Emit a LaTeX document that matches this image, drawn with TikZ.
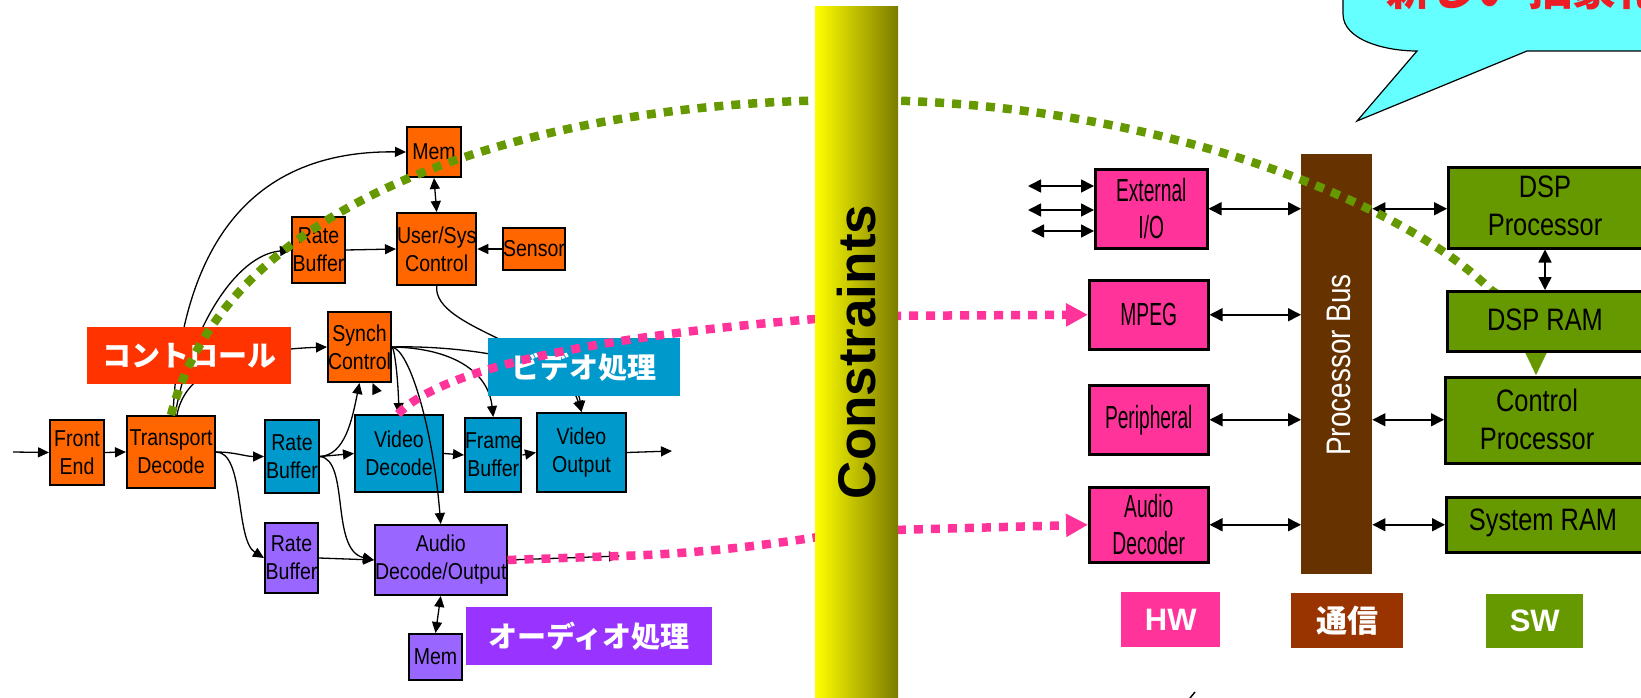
\documentclass[tikz,border=0pt]{standalone}
\usepackage{fontspec}
\setmainfont{Liberation Sans}
\newfontfamily\lfont[FakeStretch=0.85]{Liberation Sans}
\newfontfamily\rfont[FakeStretch=0.82]{Liberation Sans}
\newfontfamily\hfont[FakeStretch=0.6]{Liberation Sans}
\newfontfamily\jpfont{Noto Sans CJK JP}
\usetikzlibrary{arrows.meta}
\definecolor{orng}{HTML}{FF6600}
\definecolor{vblue}{HTML}{0099CC}
\definecolor{apurp}{HTML}{9966FF}
\definecolor{hwpink}{HTML}{FF3399}
\definecolor{swgreen}{HTML}{669900}
\definecolor{busbrown}{HTML}{663300}
\definecolor{combrown}{HTML}{993300}
\definecolor{ctrlred}{HTML}{FF3300}
\definecolor{audlbl}{HTML}{9933FF}
\definecolor{callcyan}{HTML}{66FFFF}
\definecolor{olivedark}{HTML}{7A7A00}
\definecolor{calltext}{HTML}{EE1C24}
\tikzset{
  lbox/.style={draw=black, line width=2pt, inner sep=0pt, anchor=north west, align=center,
    font=\lfont\fontsize{23}{28}\selectfont},
  rbox/.style={draw=black, line width=2.5pt, inner sep=0pt, anchor=north west, align=center,
    font=\rfont\fontsize{31}{38}\selectfont},
  hbox/.style={rbox, font=\hfont\fontsize{32}{37}\selectfont},
  rtxt/.style={inner sep=0pt, align=center, font=\rfont\fontsize{31}{38}\selectfont},
  lbl/.style={inner sep=0pt, anchor=north west, text=white, font=\jpfont\bfseries\fontsize{29}{34}\selectfont},
  tag/.style={inner sep=0pt, anchor=north west, text=white, font=\bfseries\fontsize{31}{36}\selectfont},
  conn/.style={line width=1.3pt, -{Triangle[length=11pt,width=10pt]}},
  dconn/.style={line width=1.3pt, {Triangle[length=11pt,width=10pt]}-{Triangle[length=11pt,width=10pt]}},
  rconn/.style={line width=1.5pt, {Triangle[length=13pt,width=13pt]}-{Triangle[length=13pt,width=13pt]}},
  gdot/.style={draw=swgreen, line width=8.5pt, dash pattern=on 9pt off 8pt},
  pdot/.style={draw=hwpink, line width=8.5pt, dash pattern=on 9pt off 8pt},
}
\begin{document}
\begin{tikzpicture}[x=1pt,y=-1pt]
\useasboundingbox (0,0) rectangle (1641,698);

% ---------------- callout ----------------
\filldraw[fill=callcyan, draw=black, line width=1.2pt]
  (1343,-10) -- (1343,14) .. controls (1343,40) and (1385,51) .. (1417,51)
  -- (1357,121) -- (1527,51) -- (1660,51) -- (1660,-10) -- cycle;
\node[anchor=base west, inner sep=0pt, text=calltext, font=\jpfont\bfseries\fontsize{44}{50}\selectfont]
  (ctitle) at (1386,6) {新しい\hspace{10pt}抽象化};

% ---------------- left boxes ----------------
\node[lbox, fill=orng, minimum width=54, minimum height=65] (fe) at (49,419) {Front\\End};
\node[lbox, fill=orng, minimum width=88, minimum height=72] (td) at (126,415) {Transport\\Decode};
\node[lbox, fill=vblue, minimum width=54, minimum height=73] (rbb) at (264,419) {Rate\\Buffer};
\node[lbox, fill=vblue, minimum width=88, minimum height=77] (vd) at (354,414) {Video\\Decode};
\node[lbox, fill=vblue, minimum width=54, minimum height=74] (fb) at (464,417) {Frame\\Buffer};
\node[lbox, fill=vblue, minimum width=89, minimum height=79] (vo) at (536,412) {Video\\Output};
\node[lbox, fill=orng, minimum width=55, minimum height=70] (sc) at (327,311) {Synch\\Control};
\node[lbox, fill=apurp, minimum width=119, minimum height=70] (ado) at (374,524) {Audio\\Decode/Output};
\node[lbox, fill=apurp, minimum width=53, minimum height=46] (memp) at (408,633) {Mem};
\node[lbox, fill=apurp, minimum width=53, minimum height=70] (rbp) at (264,522) {Rate\\Buffer};
\node[lbox, fill=orng, minimum width=54, minimum height=50] (memo) at (406,126) {Mem};
\node[lbox, fill=orng, minimum width=53, minimum height=66] (rbo) at (291,216) {Rate\\Buffer};
\node[lbox, fill=orng, minimum width=75, minimum height=72] (usc) at (396,212) {User/Sys\\Control};
\node[lbox, fill=orng, minimum width=55, minimum height=42] (sen) at (502,227) {Sensor};

\coordinate (in) at (13,452);
\coordinate (vout) at (672,451);
\coordinate (aout) at (620,556);
\coordinate (vdtop) at (377,393);

% ---------------- left connectors ----------------
\draw[conn] (in) -- (fe.west);
\draw[conn] (fe.east) -- (td.west);
\draw[conn] (td.east) to[out=0,in=180] (rbb.west);
\draw[conn] (td.east) .. controls (245,452) and (235,540) .. (rbp.west);
\draw[conn] ([xshift=2pt]td.north) .. controls (180,260) and (240,150) .. (memo.west);
\draw[conn] ([xshift=4pt]td.north) .. controls (190,330) and (235,255) .. (rbo.west);
\draw[conn] ([xshift=6pt]td.north) .. controls (185,370) and (240,350) .. (sc.west);
\draw[conn] (rbo.east) -- (usc.west);
\draw[dconn] (memo.south) -- (usc.north);
\draw[conn] (sen.west) -- (usc.east);
\draw[conn] (usc.south) .. controls (433,330) and (560,345) .. (vo.north);
\draw[conn] (sc.east) .. controls (395,350) and (398,380) .. (vd.north);
\draw[conn] (sc.east) .. controls (410,350) and (433,430) .. (ado.north);
\draw[conn] (sc.east) .. controls (450,348) and (488,370) .. (fb.north);
\draw[conn] (sc.east) .. controls (460,345) and (575,360) .. (vo.north);
\draw[conn] (rbb.east) -- (vd.west);
\draw[conn] (rbb.east) .. controls (345,455) and (352,420) .. (sc.south);
\draw[conn] (vdtop) -- ([xshift=13pt]sc.south);
\draw[conn] (rbb.east) .. controls (350,460) and (330,550) .. (ado.west);
\draw[conn] (rbp.east) -- (ado.west);
\draw[conn] (vd.east) -- (fb.west);
\draw[conn] (fb.east) -- (vo.west);
\draw[conn] (vo.east) -- (vout);
\draw[conn] (ado.east) -- (aout);
\draw[dconn] (ado.south) -- (memp.north);

% ---------------- labels ----------------
\node[lbl, fill=ctrlred, minimum width=204, minimum height=57] (lctrl) at (87,327) {コントロール};
\node[lbl, fill=vblue, minimum width=192, minimum height=58] (lvid) at (488,338) {ビデオ処理};
\node[lbl, fill=audlbl, minimum width=246, minimum height=58] (laud) at (466,607) {オーディオ処理};

% ---------------- right side ----------------
\node[hbox, fill=hwpink, minimum width=112, minimum height=79] (ext) at (1094,168) {External\\I/O};
\node[hbox, fill=hwpink, minimum width=119, minimum height=69] (mpeg) at (1088,279) {MPEG};
\node[hbox, fill=hwpink, minimum width=119, minimum height=69] (per) at (1088,384) {Peripheral};
\node[hbox, fill=hwpink, minimum width=119, minimum height=75] (adec) at (1088,486) {Audio\\Decoder};
\node[inner sep=0pt, anchor=north west, fill=busbrown, minimum width=71, minimum height=420] (bus) at (1301,154) {};
\node[rotate=90, inner sep=0pt, text=white, font=\rfont\fontsize{34}{40}\selectfont] (bust) at (1339,365) {Processor Bus};
\node[rbox, fill=swgreen, minimum width=215, minimum height=81] (dsp) at (1447,166) {};
\node[rtxt] (dspt) at (1545,206) {DSP\\Processor};
\node[rbox, fill=swgreen, minimum width=215, minimum height=86] (cp) at (1444,376) {};
\node[rtxt] (cpt) at (1537,419) {Control\\Processor};
\node[rbox, fill=swgreen, minimum width=215, minimum height=55] (sram) at (1445,496) {};
\node[rtxt] (sramt) at (1543,523) {System RAM};

\node[tag, fill=hwpink, minimum width=99, minimum height=55] (hw) at (1121,592) {HW};
\node[tag, fill=combrown, minimum width=112, minimum height=55, font=\jpfont\bfseries\fontsize{31}{36}\selectfont] (comm) at (1291,593) {通信};
\node[tag, fill=swgreen, minimum width=97, minimum height=54] (sw) at (1486,594) {SW};

\coordinate (e1) at (1028,186);
\coordinate (e2) at (1028,210);
\coordinate (e3) at (1031,231);
\draw[rconn] (e1) -- (e1 -| ext.west);
\draw[rconn] (e2) -- (e2 -| ext.west);
\draw[rconn] (e3) -- (e3 -| ext.west);
\draw[rconn] (ext.east) -- (ext.east -| bus.west);
\draw[rconn] (ext.east -| bus.east) -- (ext.east -| dsp.west);
\draw[rconn] (mpeg.east) -- (mpeg.east -| bus.west);
\draw[rconn] (per.east) -- (per.east -| bus.west);
\draw[rconn] (per.east -| bus.east) -- (per.east -| cp.west);
\draw[rconn] (adec.east) -- (adec.east -| bus.west);
\draw[rconn] (adec.east -| bus.east) -- (adec.east -| sram.west);

\coordinate (gend) at (1536,376);
% ---------------- dotted relations ----------------
\draw[gdot, -{Triangle[length=26pt,width=22pt]}] (td.north) .. controls (230,190) and (550,100) .. (856,100)
  .. controls (1150,100) and (1400,200) .. (1491,290) .. controls (1525,312) and (1536,335) .. (gend);
\draw[pdot, -{Triangle[length=22pt,width=22pt]}] ([xshift=-1pt]vd.north) .. controls (450,360) and (650,330) .. (856,316) -- (mpeg.west);
\draw[pdot, -{Triangle[length=22pt,width=22pt]}] (ado.east) -- (aout) .. controls (720,553) and (800,540) .. (856,531) -- (adec.west);

% ---------------- constraints bar ----------------
\node[inner sep=0pt, anchor=north west, minimum width=83, minimum height=700,
  left color=yellow, right color=olivedark] (cbar) at (815,6) {};
\node[rotate=90, inner sep=0pt, font=\bfseries\fontsize{53}{60}\selectfont] (ctext) at (857,352) {Constraints};

% DSP RAM on top of the green relation
\node[rbox, fill=swgreen, minimum width=215, minimum height=60] (dspram) at (1446,290) {};
\node[rtxt] (dspramt) at (1545,320) {DSP RAM};
\draw[rconn] (dsp.south -| dspt) -- (dspram.north -| dspt);

\draw[line width=1.5pt] (1190,698) -- (1195,692);
\end{tikzpicture}
\end{document}
